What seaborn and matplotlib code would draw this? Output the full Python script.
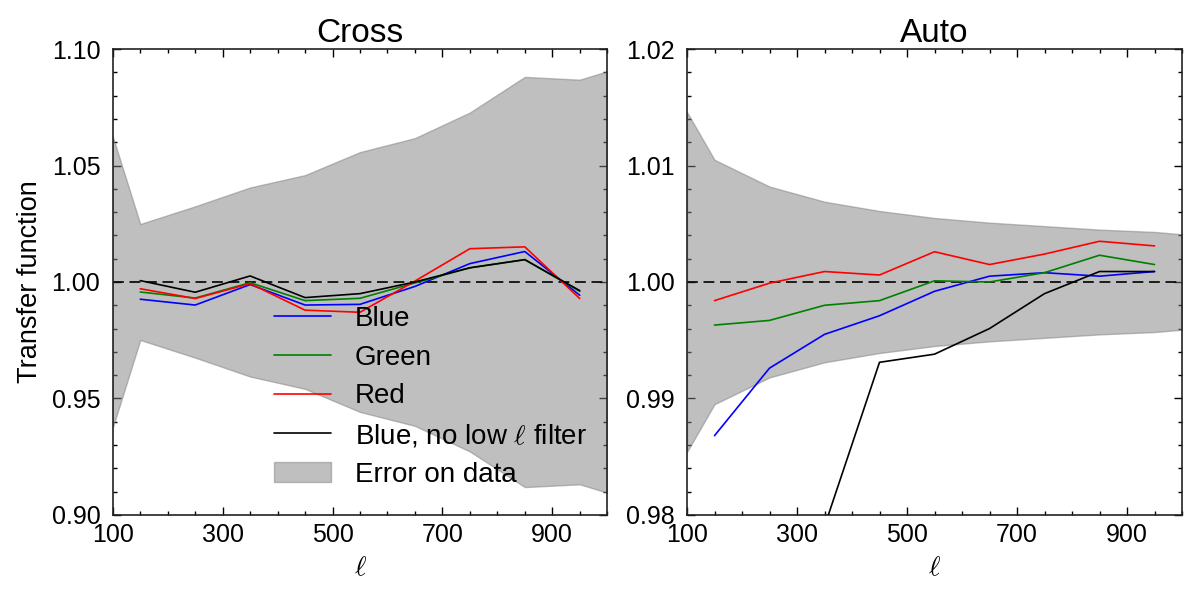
import numpy as np
import pandas as pd
import matplotlib
matplotlib.use("Agg")
import matplotlib.pyplot as plt
import seaborn as sns
from matplotlib.ticker import FixedLocator, MultipleLocator, FormatStrFormatter
from matplotlib.patches import Patch
from matplotlib.lines import Line2D

# ---------------- data ----------------
ell = [150, 250, 350, 450, 550, 650, 750, 850, 950]
band_ell = [100, 150, 250, 350, 450, 550, 650, 750, 850, 950, 1000]

cross_blue = [0.9926, 0.9901, 0.9989, 0.9901, 0.9904, 0.9981, 1.0079, 1.0131, 0.9943]
cross_green = [0.9957, 0.9931, 0.9997, 0.9920, 0.9930, 0.9996, 1.0061, 1.0096, 0.9960]
cross_red = [0.9971, 0.9929, 0.9993, 0.9879, 0.9870, 1.0004, 1.0143, 1.0151, 0.9929]
cross_black = [1.0006, 0.9956, 1.0026, 0.9933, 0.9950, 1.0000, 1.0061, 1.0096, 0.9963]
cross_err = [0.0625, 0.0249, 0.0325, 0.0406, 0.0459, 0.0558, 0.0618, 0.0728, 0.0881, 0.0869, 0.0905]

auto_blue = [0.9868, 0.9926, 0.9955, 0.9971, 0.9992, 1.0005, 1.0008, 1.0005, 1.0009]
auto_green = [0.9963, 0.9967, 0.9980, 0.9984, 1.0001, 1.0000, 1.0008, 1.0023, 1.0015]
auto_red = [0.9984, 0.9999, 1.0009, 1.0006, 1.0026, 1.0015, 1.0024, 1.0035, 1.0031]
auto_black = [0.9550, 0.9700, 0.9790, 0.9931, 0.9938, 0.9960, 0.9990, 1.0009, 1.0009]
auto_err = [0.0146, 0.0105, 0.0082, 0.0069, 0.0061, 0.0055, 0.0051, 0.0048, 0.0045, 0.0043, 0.0041]

series_names = ["Blue", "Green", "Red", r"Blue, no low $\ell$ filter"]
series_colors = ["b", "g", "r", "k"]
band_label = "Error on data"

titles = ["Cross", "Auto"]
ylims = [(0.90, 1.10), (0.98, 1.02)]
ymajor = [0.05, 0.01]
yminor = [0.01, 0.002]
xticks = [100, 300, 500, 700, 900]
xlim = (100, 1000)

# ---------------- style ----------------
sns.set_style("ticks")
plt.rcParams["font.family"] = ["Liberation Sans", "DejaVu Sans"]
plt.rcParams["mathtext.fontset"] = "cm"
for key in ["text.color", "axes.labelcolor", "xtick.color", "ytick.color", "axes.edgecolor"]:
    plt.rcParams[key] = "k"

fig = plt.figure(figsize=(12, 6), dpi=100)
ax1 = fig.add_axes([0.094, 0.142, 0.412, 0.776])
ax2 = fig.add_axes([0.5725, 0.142, 0.4125, 0.776])
axes = [ax1, ax2]

panels = [
    (cross_blue, cross_green, cross_red, cross_black, cross_err),
    (auto_blue, auto_green, auto_red, auto_black, auto_err),
]

for i, (ax, pdata) in enumerate(zip(axes, panels)):
    err = np.array(pdata[4])
    ax.fill_between(band_ell, 1 - err, 1 + err, color="gray", alpha=0.5,
                    linewidth=1.0, zorder=1)
    df = pd.DataFrame({"ell": ell * 4,
                       "value": np.concatenate(pdata[:4]),
                       "series": np.repeat(series_names, len(ell))})
    sns.lineplot(data=df, x="ell", y="value", hue="series",
                 palette=dict(zip(series_names, series_colors)),
                 hue_order=series_names, linewidth=1.2, ax=ax,
                 legend=False, zorder=3, sort=False)
    ax.axhline(1.0, color="k", linestyle="--", dashes=(6.5, 3.4),
               linewidth=1.2, zorder=2)
    ax.set_xlim(*xlim)
    ax.set_ylim(*ylims[i])
    ax.xaxis.set_major_locator(FixedLocator(xticks))
    ax.xaxis.set_minor_locator(MultipleLocator(50))
    ax.yaxis.set_major_locator(MultipleLocator(ymajor[i]))
    ax.yaxis.set_minor_locator(MultipleLocator(yminor[i]))
    ax.yaxis.set_major_formatter(FormatStrFormatter("%.2f"))
    ax.tick_params(which="both", direction="in", top=True, right=True,
                   labelsize=18, width=1.0, color="k", labelcolor="k")
    ax.tick_params(which="major", length=6)
    ax.tick_params(which="minor", length=3)
    ax.tick_params(axis="y", which="major", pad=9)
    ax.tick_params(axis="x", which="major", pad=6)
    for s in ax.spines.values():
        s.set_linewidth(1.2)
        s.set_color("#222222")
    ax.set_title(titles[i], fontsize=24, pad=5.5)
    ax.set_xlabel(r"$\ell$", fontsize=20, labelpad=6)
    ax.set_ylabel("")

ax1.set_ylabel("Transfer function", fontsize=19.5, labelpad=6)

handles = [Line2D([], [], color=c, linewidth=1.2) for c in series_colors]
handles.append(Patch(facecolor="gray", edgecolor="gray", alpha=0.5, linewidth=1.0))
ax1.legend(handles, series_names + [band_label], loc="lower left",
           bbox_to_anchor=(0.276, 0.004), frameon=False, fontsize=20,
           handlelength=2.05, handletextpad=0.84, labelspacing=0.46)

fig.savefig("out.png", dpi=100)
